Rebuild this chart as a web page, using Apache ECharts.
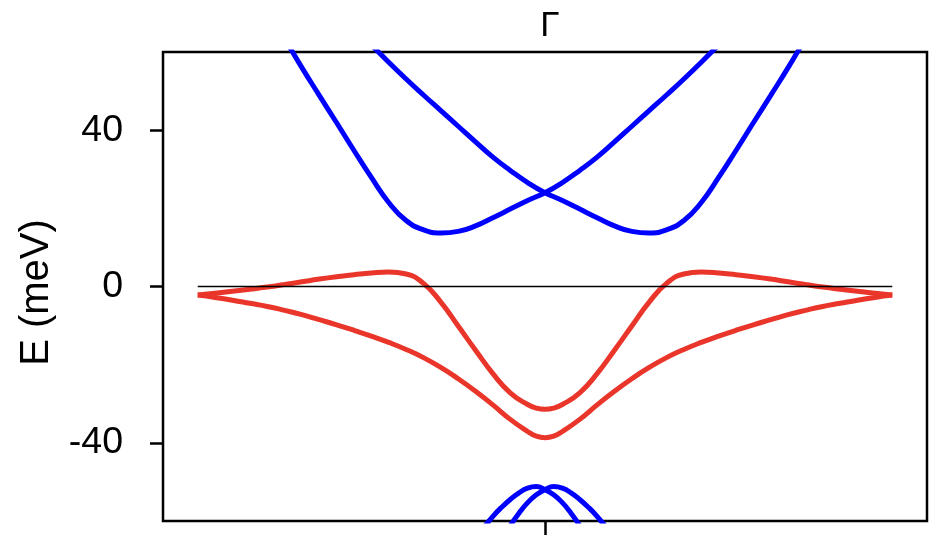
<!DOCTYPE html>
<html>
<head>
<meta charset="utf-8">
<title>Band structure near Γ</title>
<script src="https://cdn.jsdelivr.net/npm/echarts@6/dist/echarts.min.js"></script>
<style>
  html, body { margin: 0; padding: 0; background: #fff; }
  #chart { width: 943px; height: 542px; }
</style>
</head>
<body>
<div id="chart"></div>
<script>
// momentum grid (Γ at 0) and band energies in meV
var kMain = [-1, -0.95, -0.9, -0.85, -0.8, -0.75, -0.7, -0.65, -0.6, -0.55, -0.5,
  -0.45, -0.4, -0.35, -0.3, -0.25, -0.2, -0.15, -0.1, -0.05, -0.025, 0,
  0.025, 0.05, 0.1, 0.15, 0.2, 0.25, 0.3, 0.35, 0.4, 0.45, 0.5,
  0.55, 0.6, 0.65, 0.7, 0.75, 0.8, 0.85, 0.9, 0.95, 1]

var redUpper = [-2.2, -1.7, -1.2, -0.7, -0.15, 0.5, 1.2, 1.9, 2.5, 3.0, 3.45,
  3.7, 3.2, 0.8, -4.0, -10.1, -16.3, -22.3, -27.2, -30.2, -31.1, -31.4,
  -31.1, -30.2, -27.2, -22.3, -16.3, -10.1, -4.0, 0.8, 3.2, 3.7, 3.45,
  3.0, 2.5, 1.9, 1.2, 0.5, -0.15, -0.7, -1.2, -1.7, -2.2]

var redLower = [-2.2, -2.8, -3.5, -4.3, -5.1, -6.1, -7.2, -8.5, -9.8, -11.2, -12.7,
  -14.3, -16.1, -18.2, -20.7, -23.6, -26.8, -30.3, -34.0, -37.1, -38.3, -38.7,
  -38.3, -37.1, -34.0, -30.3, -26.8, -23.6, -20.7, -18.2, -16.1, -14.3, -12.7,
  -11.2, -9.8, -8.5, -7.2, -6.1, -5.1, -4.3, -3.5, -2.8, -2.2]

var kBlueA = [-0.75, -0.7, -0.65, -0.6, -0.55, -0.5, -0.45, -0.4, -0.35, -0.3, -0.25,
  -0.2, -0.15, -0.1, -0.05, 0, 0.05, 0.1, 0.15, 0.2, 0.25, 0.3, 0.35, 0.4, 0.45, 0.5]
var blueA = [63.5, 56.0, 48.9, 41.9, 34.8, 27.9, 21.5, 16.9, 14.5, 13.7, 14.1,
  15.5, 17.6, 19.8, 22.0, 24.0, 26.6, 29.7, 33.1, 37.0, 41.0, 45.0, 49.0, 53.1, 57.4, 61.8]

var kBlueB = [-0.5, -0.45, -0.4, -0.35, -0.3, -0.25, -0.2, -0.15, -0.1, -0.05, 0,
  0.05, 0.1, 0.15, 0.2, 0.25, 0.3, 0.35, 0.4, 0.45, 0.5, 0.55, 0.6, 0.65, 0.7, 0.75]
var blueB = [61.8, 57.4, 53.1, 49.0, 45.0, 41.0, 37.0, 33.1, 29.7, 26.6, 24.0,
  22.0, 19.8, 17.6, 15.5, 14.1, 13.7, 14.5, 16.9, 21.5, 27.9, 34.8, 41.9, 48.9, 56.0, 63.5]

var kBlueC = [-0.2, -0.175, -0.15, -0.125, -0.1, -0.075, -0.05, -0.025, 0, 0.025, 0.05, 0.075, 0.1, 0.125]
var blueC = [-64.0, -61.5, -58.8, -56.5, -54.5, -52.8, -51.6, -51.2, -52.0, -53.3, -55.3, -58.0, -61.2, -64.5]

var kBlueD = [-0.125, -0.1, -0.075, -0.05, -0.025, 0, 0.025, 0.05, 0.075, 0.1, 0.125, 0.15, 0.175, 0.2]
var blueD = [-64.5, -61.2, -58.0, -55.3, -53.3, -52.0, -51.2, -51.6, -52.8, -54.5, -56.5, -58.8, -61.5, -64.0]

var kZero = [-1, 1]
var zeroLine = [0, 0]

var yTicks = [-40, 0, 40]
var xTicks = [0]
var xTickLabel = 'Γ'

var RED = '#e9352a'
var BLUE = '#0000ff'
var FONT = '"Liberation Sans", Arial, Helvetica, sans-serif'

function pairs(xs, ys) {
  return xs.map(function (x, i) { return [x, ys[i]] })
}

function band(data, color) {
  return {
    type: 'line',
    data: data,
    showSymbol: false,
    smooth: 0.5,
    clip: true,
    lineStyle: { color: color, width: 5 },
    z: 2
  }
}

var chart = echarts.init(document.getElementById('chart'))
chart.setOption({
  animation: false,
  backgroundColor: '#fff',
  grid: {
    left: 163, right: 16, top: 52, bottom: 21,
    show: true,
    borderColor: '#000',
    borderWidth: 2.5
  },
  xAxis: [{
    type: 'value',
    position: 'bottom',
    min: -1.1, max: 1.1,
    axisLine: { show: false, onZero: false },
    splitLine: { show: false },
    axisTick: { show: true, customValues: xTicks, length: 14, lineStyle: { color: '#000', width: 2.5 } },
    axisLabel: { show: false }
  }, {
    type: 'value',
    position: 'top',
    min: -1.1, max: 1.1,
    axisLine: { show: false, onZero: false },
    splitLine: { show: false },
    axisTick: { show: false },
    axisLabel: {
      customValues: xTicks,
      formatter: function () { return xTickLabel },
      fontSize: 35, color: '#000', fontFamily: FONT, margin: 8,
      padding: [0, 0, 0, 10]
    }
  }],
  yAxis: {
    type: 'value',
    position: 'left',
    min: -60, max: 60,
    name: 'E (meV)',
    nameLocation: 'middle',
    nameGap: 106,
    nameTextStyle: { fontSize: 40, color: '#000', fontFamily: FONT, padding: [0, 12, 0, 0] },
    axisLine: { show: false, onZero: false },
    splitLine: { show: false },
    axisTick: { show: true, customValues: yTicks, length: 13, lineStyle: { color: '#000', width: 2.5 } },
    axisLabel: { customValues: yTicks, fontSize: 37.5, color: '#000', fontFamily: FONT, margin: 40 }
  },
  series: [
    band(pairs(kMain, redLower), RED),
    band(pairs(kMain, redUpper), RED),
    band(pairs(kBlueA, blueA), BLUE),
    band(pairs(kBlueB, blueB), BLUE),
    band(pairs(kBlueC, blueC), BLUE),
    band(pairs(kBlueD, blueD), BLUE),
    {
      type: 'line',
      data: pairs(kZero, zeroLine),
      showSymbol: false,
      lineStyle: { color: '#000', width: 1.4 },
      z: 5
    }
  ]
})
</script>
</body>
</html>
